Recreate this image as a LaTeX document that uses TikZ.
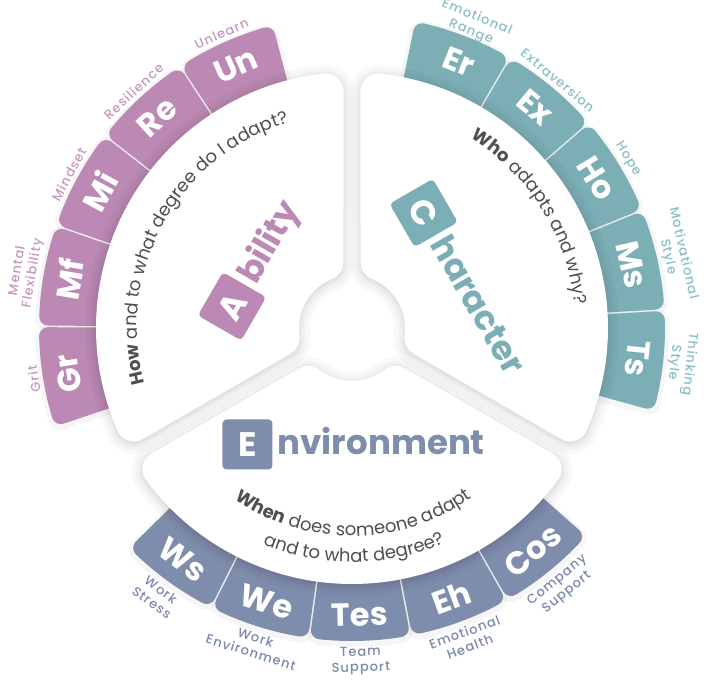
\documentclass[tikz,border=0pt]{standalone}
\usepackage{fontspec}
\setmainfont{Poppins}
\newfontfamily\popmed[LetterSpace=8]{Poppins Medium}
\usetikzlibrary{calc,decorations.text}
\definecolor{abil}{HTML}{BB89B3}
\definecolor{abill}{HTML}{C597BE}
\definecolor{chara}{HTML}{7BAEB5}
\definecolor{charl}{HTML}{88BFC5}
\definecolor{envi}{HTML}{7F8DAD}
\definecolor{envil}{HTML}{7A88AD}
\definecolor{qgray}{HTML}{4F4F4F}
\newcommand\qf{\fontsize{18}{22}\selectfont\color{qgray}}
\newcommand\secpath[1]{({#1+21.92}:71) -- ({#1+6.393}:238) arc[start angle={#1+6.393}, end angle={#1+113.607}, radius=238] -- ({#1+98.08}:71) arc[start angle={#1+98.08}, end angle={#1+21.92}, radius=71] -- cycle}
\newcommand\tilepath[1]{({#1-7.05}:239) -- ({#1-7.553}:304) arc[start angle={#1-7.553}, end angle={#1+7.553}, radius=304] -- ({#1+7.05}:239) arc[start angle={#1+7.05}, end angle={#1-7.05}, radius=239] -- cycle}
\tikzset{
  tilelbl/.style={font=\fontsize{32}{32}\selectfont\bfseries, text=white, inner sep=0},
  smalllbl/.style={font=\popmed\fontsize{13}{15.5}\selectfont, align=center, inner sep=0},
  hbox/.style={minimum size=50, inner sep=0, rounded corners=4, font=\fontsize{34}{34}\selectfont\bfseries, text=white},
  htext/.style={font=\fontsize{34}{34}\selectfont\bfseries, inner sep=0, anchor=base west},
  rnd/.style={line join=round},
}
\begin{document}
\begin{tikzpicture}[x=1pt,y=1pt]
\useasboundingbox (-352,-356) rectangle (355,328);
% tile glow
\foreach \a/\c in {189.1/abil,170.3/abil,151.5/abil,132.7/abil,113.9/abil,69.1/chara,50.3/chara,31.5/chara,12.7/chara,-6.1/chara,233.9/envi,252.7/envi,271.5/envi,290.3/envi,309.1/envi}{
  \draw[black, opacity=0.035, line width=26, rnd, yshift=-2] \tilepath{\a};
}
% tiles
\foreach \a/\c in {189.1/abil,170.3/abil,151.5/abil,132.7/abil,113.9/abil,69.1/chara,50.3/chara,31.5/chara,12.7/chara,-6.1/chara,233.9/envi,252.7/envi,271.5/envi,290.3/envi,309.1/envi}{
  \filldraw[fill=\c, draw=\c, line width=18, rnd] \tilepath{\a};
}
% sector shadows
\foreach \b in {90,-30,210}{
  \foreach \w in {58,50,44,40,37}{
    \draw[black, opacity=0.022, line width=\w, rnd, yshift=-2] \secpath{\b};
  }
}
% white sectors
\foreach \b in {90,-30,210}{
  \filldraw[fill=white, draw=white, line width=36, rnd] \secpath{\b};
}
% headings
\begin{scope}[shift={(-120,21.7)}, rotate=60, transform shape]
  \node[hbox, fill=abil] (hA) at (0,0) {A};
  \node[htext, text=abil] (hAt) at (30,-10.5) {bility};
\end{scope}
\begin{scope}[shift={(71.7,115)}, rotate=-60, transform shape]
  \node[hbox, fill=chara] (hC) at (0,0) {C};
  \node[htext, text=chara] (hCt) at (30,-10.5) {haracter};
\end{scope}
\begin{scope}[shift={(-104.5,-116.5)}]
  \node[hbox, fill=envi] (hE) at (0,0) {E};
  \node[htext, text=envi] (hEt) at (30,-10.5) {nvironment};
\end{scope}
% questions
\path[decorate, decoration={text along path, text align=center,
  text={|\qf\bfseries|How|\qf\mdseries| and to what degree do I adapt?}}]
  (221:215) arc[start angle=221, end angle=81, radius=215];
\path[decorate, decoration={text along path, text align=center,
  text={|\qf\bfseries|Who|\qf\mdseries| adapts and why?}}]
  (92:224) arc[start angle=92, end angle=-28, radius=224];
\path[decorate, decoration={text along path, text align=center,
  text={|\qf\bfseries|When|\qf\mdseries| does someone adapt}}]
  (210.5:208) arc[start angle=210.5, end angle=330.5, radius=208];
\path[decorate, decoration={text along path, text align=center,
  text={|\qf\mdseries|and to what degree?}}]
  (210.5:234) arc[start angle=210.5, end angle=330.5, radius=234];
% tile labels, top groups
\foreach \a/\t/\l/\c/\r in {189.1/Gr/Grit/abill/317, 170.3/Mf/{Mental\\Flexibility}/abill/317, 151.5/Mi/Mindset/abill/317, 132.7/Re/Resilience/abill/317, 113.9/Un/Unlearn/abill/317, 68.1/Er/{Emotional\\Range}/charl/312, 50.3/Ex/Extraversion/charl/317, 31.5/Ho/Hope/charl/317, 12.7/Ms/{Motivational\\Style}/charl/317, -6.1/Ts/{Thinking\\Style}/charl/317}{
  \node[tilelbl, rotate=\a-90] (t\t) at (\a:287) {\t};
  \node[smalllbl, text=\c, rotate=\a-90, anchor=south] (l\t) at (\a:\r) {\l};
}
% tile labels, bottom group
\foreach \a/\t/\l in {233.9/Ws/{Work\\Stress}, 252.7/We/{Work\\Environment}, 271.5/Tes/{Team\\Support}, 290.3/Eh/{Emotional\\Health}, 309.1/Cos/{Company\\Support}}{
  \node[tilelbl, rotate=\a+90] (t\t) at (\a:287) {\t};
  \node[smalllbl, text=envil, rotate=\a+90, anchor=north] (l\t) at (\a:319) {\l};
}
\end{tikzpicture}
\end{document}
